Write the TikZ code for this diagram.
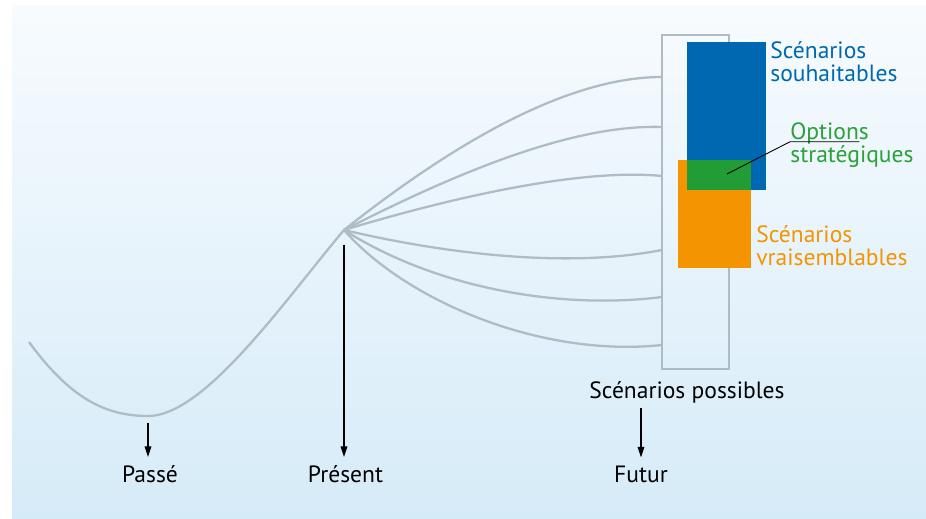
\documentclass[tikz,border=0pt]{standalone}
\usepackage{fontspec}
\setmainfont{PT Sans}
\usetikzlibrary{arrows.meta,positioning}
\definecolor{fondhaut}{RGB}{247,251,254}
\definecolor{fondbas}{RGB}{214,235,248}
\definecolor{gris}{RGB}{176,188,196}
\definecolor{bleu}{RGB}{0,104,177}
\definecolor{orange}{RGB}{243,148,0}
\definecolor{vert}{RGB}{34,156,52}
\definecolor{vertclair}{RGB}{44,160,58}

\begin{document}
\begin{tikzpicture}[x=0.02cm,y=-0.02cm]
\tikzstyle{every node}+=[inner sep=0pt, font=\fontsize{13.4}{15}\selectfont]
\tikzstyle{courbe}=[draw=gris, line width=1.3pt]
\tikzstyle{fleche}=[-{Triangle[length=6pt,width=3.8pt]}, line width=0.7pt, shorten >=5pt]
\useasboundingbox (0,0) rectangle (926,519);
\fill[white] (0,0) rectangle (926,519);
\shade[top color=fondhaut, bottom color=fondbas] (12,6) rectangle (926,519);
% points of the time line
\coordinate (debut) at (29,342);
\coordinate (creux) at (148,416);
\coordinate (maintenant) at (344,230);
\coordinate (s1) at (662,77);
\coordinate (s2) at (662,127);
\coordinate (s3) at (662,176);
\coordinate (s4) at (662,250);
\coordinate (s5) at (662,297);
\coordinate (s6) at (662,345);
% past
\draw [courbe] (debut) .. controls (70,398) and (105,416) .. (creux) .. controls (205,416) and (285,300) .. (maintenant);
% possible futures
\draw [courbe] (maintenant) .. controls (440,154) and (560,77) .. (s1);
\draw [courbe] (maintenant) .. controls (450,176) and (570,124) .. (s2);
\draw [courbe] (maintenant) .. controls (450,198) and (580,168) .. (s3);
\draw [courbe] (maintenant) .. controls (450,255) and (570,268) .. (s4);
\draw [courbe] (maintenant) .. controls (435,288) and (560,310) .. (s5);
\draw [courbe] (maintenant) .. controls (405,300) and (540,358) .. (s6);
\draw [gris, line width=1.3pt] (662,35) rectangle (729,369);
\fill [orange] (678,160) rectangle (751,268);
\fill [bleu] (687,42) rectangle (766,190);
\fill [vert] (687,160) rectangle (751,190);
% labels on the right
\node [anchor=base west, text=bleu] (souhait) at (770,59) {Scénarios};
\node [anchor=base west, text=bleu] (souhait2) at (770,82) {souhaitables};
\node [anchor=base west, text=vertclair] (options) at (790,140) {Options};
\node [anchor=base west, text=vertclair] (options2) at (790,163) {stratégiques};
\node [anchor=base west, text=orange] (vraisembl) at (756,243) {Scénarios};
\node [anchor=base west, text=orange] (vraisembl2) at (756,266) {vraisemblables};
\coordinate (pointe) at (727,174);
\draw [line width=0.5pt] (pointe) -- ([yshift=-1pt]options.base west) -- ([xshift=-0.2cm,yshift=-1pt]options.base east);
% labels at the bottom
\node [anchor=base] (possibles) at (687,399) {Scénarios possibles};
\node [anchor=base] (passe) at (150,483) {Passé};
\node [anchor=base] (present) at (345.5,483) {Présent};
\node [anchor=base] (futur) at (641,483) {Futur};
\draw [fleche] (creux) ++(0,7) -- (creux |- passe.north);
\draw [fleche] (maintenant) ++(0,15) -- (maintenant |- present.north);
\draw [fleche, shorten <=2pt] (futur.north |- possibles.south) -- (futur.north);
\end{tikzpicture}
\end{document}
